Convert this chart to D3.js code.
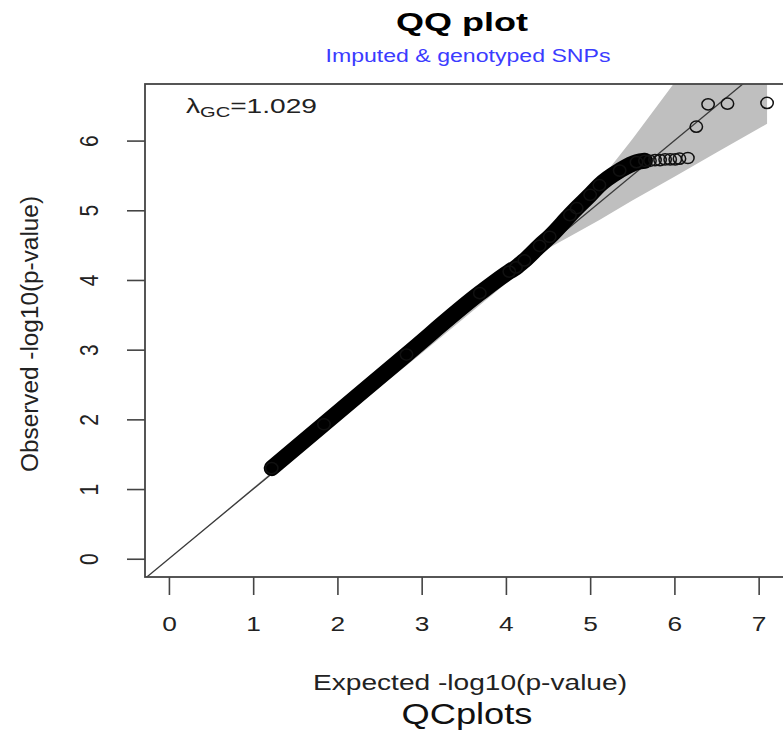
<!DOCTYPE html>
<html>
<head>
<meta charset="utf-8">
<script src="https://cdn.jsdelivr.net/npm/d3@7"></script>
<style>
  html, body { margin: 0; padding: 0; background: #fff; }
  svg { display: block; }
  text { font-family: "Liberation Sans", Arial, Helvetica, sans-serif; }
</style>
</head>
<body>
<div id="chart"></div>
<script>
// ---------------- data ----------------
const xTicks = [0, 1, 2, 3, 4, 5, 6, 7];
const yTicks = [0, 1, 2, 3, 4, 5, 6];

// dense part of the QQ curve (expected, observed) -log10 p
const denseExpected = [1.22, 1.84, 2.82, 3.69, 4.04, 4.12, 4.22, 4.40, 4.52, 4.76, 4.84, 5.00, 5.11, 5.35, 5.55, 5.65];
const denseObserved = [1.30, 1.93, 2.93, 3.81, 4.12, 4.18, 4.28, 4.49, 4.62, 4.93, 5.03, 5.22, 5.36, 5.57, 5.69, 5.71];

// sparse tail points
const tailExpected = [5.71, 5.77, 5.83, 5.89, 5.95, 6.01, 6.06, 6.16, 6.26, 6.40, 6.63, 7.10];
const tailObserved = [5.71, 5.72, 5.72, 5.73, 5.73, 5.73, 5.74, 5.75, 6.20, 6.52, 6.53, 6.54];

// 95% confidence band
const ciExpected = [0, 1, 2, 3, 4.0, 4.3, 4.5, 4.87, 5.11, 5.5, 6.0, 6.5, 7.1];
const ciUpper    = [0, 1.02, 2.04, 3.07, 4.12, 4.40, 4.62, 5.14, 5.42, 6.02, 6.83, 7.70, 8.80];
const ciLower    = [0, 0.99, 1.97, 2.95, 3.95, 4.22, 4.45, 4.70, 4.86, 5.14, 5.48, 5.83, 6.24];

const titleText = "QQ plot";
const subtitleText = "Imputed & genotyped SNPs";
const xLabelText = "Expected -log10(p-value)";
const yLabelText = "Observed -log10(p-value)";
const footerText = "QCplots";
const lambdaValue = "1.029";

// ---------------- layout ----------------
const W = 783, H = 731;
const plot = { left: 145, right: 791, top: 84, bottom: 577 };
const xlim = [-0.284, 7.384];
const ylim = [-0.262, 6.812];

const svg = d3.select("#chart").append("svg")
  .attr("width", W).attr("height", H)
  .attr("viewBox", `0 0 ${W} ${H}`);

const x = d3.scaleLinear().domain(xlim).range([plot.left, plot.right]);
const y = d3.scaleLinear().domain(ylim).range([plot.bottom, plot.top]);

svg.append("clipPath").attr("id", "clip")
  .append("rect")
  .attr("x", plot.left).attr("y", plot.top)
  .attr("width", plot.right - plot.left).attr("height", plot.bottom - plot.top);

const g = svg.append("g").attr("clip-path", "url(#clip)");

// confidence band
const band = ciExpected.map((e, i) => ({ e, u: ciUpper[i], l: ciLower[i] }));
g.append("path")
  .datum(band)
  .attr("fill", "#bfbfbf")
  .attr("stroke", "none")
  .attr("d", d3.area().x(d => x(d.e)).y0(d => y(d.l)).y1(d => y(d.u)));

// diagonal y = x
g.append("line")
  .attr("x1", x(-1)).attr("y1", y(-1))
  .attr("x2", x(9)).attr("y2", y(9))
  .attr("stroke", "#3a3a3a").attr("stroke-width", 1.3);

// dense band of overlapping points
const dense = denseExpected.map((e, i) => ({ e, o: denseObserved[i] }));
g.append("path")
  .datum(dense)
  .attr("fill", "none")
  .attr("stroke", "#000")
  .attr("stroke-width", 16)
  .attr("stroke-linecap", "round")
  .attr("stroke-linejoin", "round")
  .attr("d", d3.line().x(d => x(d.e)).y(d => y(d.o)).curve(d3.curveMonotoneX));

// individual open circles
const pts = dense.concat(tailExpected.map((e, i) => ({ e, o: tailObserved[i] })));
g.selectAll("ellipse.pt")
  .data(pts)
  .join("ellipse")
  .attr("class", "pt")
  .attr("cx", d => x(d.e)).attr("cy", d => y(d.o))
  .attr("rx", 6.2).attr("ry", 5.6)
  .attr("fill", "none")
  .attr("stroke", "#111")
  .attr("stroke-width", 1.5);

// box
svg.append("rect")
  .attr("x", plot.left).attr("y", plot.top)
  .attr("width", plot.right - plot.left).attr("height", plot.bottom - plot.top)
  .attr("fill", "none").attr("stroke", "#444").attr("stroke-width", 1.8);

// x axis
const xAxis = svg.append("g")
  .attr("transform", `translate(0,${plot.bottom})`)
  .call(d3.axisBottom(x).tickValues(xTicks).tickSize(18).tickPadding(0).tickFormat(d3.format("d")));
xAxis.select(".domain").remove();
xAxis.selectAll(".tick line").attr("stroke", "#444").attr("stroke-width", 1.6);
xAxis.selectAll(".tick text")
  .attr("y", 54).attr("dy", null)
  .attr("font-size", 21).attr("fill", "#222")
  .attr("font-family", "Liberation Sans, Arial, sans-serif")
  .attr("transform", "scale(1.25,1)")
  .attr("text-anchor", "middle");

// y axis
const yAxis = svg.append("g")
  .attr("transform", `translate(${plot.left},0)`)
  .call(d3.axisLeft(y).tickValues(yTicks).tickSize(18).tickPadding(0).tickFormat(d3.format("d")));
yAxis.select(".domain").remove();
yAxis.selectAll(".tick line").attr("stroke", "#444").attr("stroke-width", 1.6);
yAxis.selectAll(".tick text")
  .attr("x", null).attr("dy", null)
  .attr("font-size", 21).attr("fill", "#222")
  .attr("font-family", "Liberation Sans, Arial, sans-serif")
  .attr("text-anchor", "middle")
  .attr("transform", "translate(-47,0) scale(1.25,1) rotate(-90)");

// titles
svg.append("text")
  .attr("x", 462).attr("y", 31)
  .attr("text-anchor", "middle")
  .attr("font-size", 26).attr("font-weight", "bold").attr("fill", "#000")
  .attr("textLength", 132).attr("lengthAdjust", "spacingAndGlyphs")
  .text(titleText);

svg.append("text")
  .attr("x", 468).attr("y", 62)
  .attr("text-anchor", "middle")
  .attr("font-size", 17.5).attr("fill", "#3b3bff")
  .attr("textLength", 285).attr("lengthAdjust", "spacingAndGlyphs")
  .text(subtitleText);

svg.append("text")
  .attr("x", 470).attr("y", 690)
  .attr("text-anchor", "middle")
  .attr("font-size", 22).attr("fill", "#222")
  .attr("textLength", 314).attr("lengthAdjust", "spacingAndGlyphs")
  .text(xLabelText);

svg.append("text")
  .attr("text-anchor", "middle")
  .attr("font-size", 23).attr("fill", "#222")
  .attr("transform", `translate(38,334) rotate(-90)`)
  .attr("textLength", 276).attr("lengthAdjust", "spacingAndGlyphs")
  .text(yLabelText);

svg.append("text")
  .attr("x", 467).attr("y", 724)
  .attr("text-anchor", "middle")
  .attr("font-size", 29).attr("fill", "#111")
  .attr("textLength", 131).attr("lengthAdjust", "spacingAndGlyphs")
  .text(footerText);

// lambda annotation
const lam = svg.append("text")
  .attr("transform", "translate(186,113) scale(1.34,1)")
  .attr("font-size", 21).attr("fill", "#222");
lam.append("tspan").text("\u03bb");
lam.append("tspan").attr("font-size", 15).attr("dy", 4).text("GC");
lam.append("tspan").attr("font-size", 21).attr("dy", -4).text("=" + lambdaValue);
</script>
</body>
</html>
